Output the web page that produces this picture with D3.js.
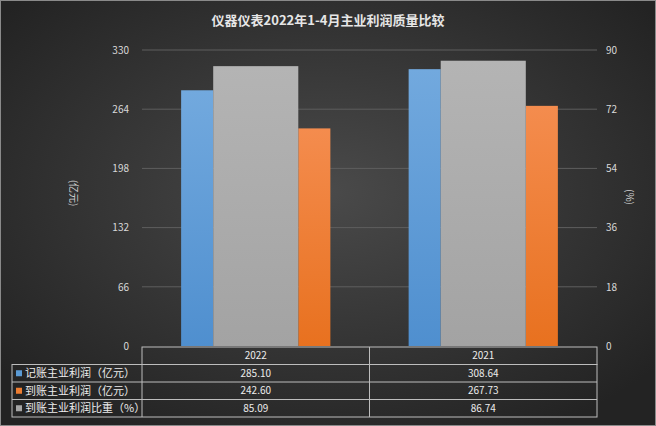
<!DOCTYPE html>
<html>
<head>
<meta charset="utf-8">
<title>仪器仪表2022年1-4月主业利润质量比较</title>
<style>
  html, body { margin: 0; padding: 0; background: #222; }
  svg { display: block; }
  text { font-family: "Noto Sans CJK SC", "Noto Sans", sans-serif; }
</style>
</head>
<body>
<script src="https://cdn.jsdelivr.net/npm/d3@7"></script>
<script>
// data
var categories = ["2022", "2021"];
var seriesNames = ["记账主业利润（亿元）", "到账主业利润（亿元）", "到账主业利润比重（%）"];
var booked = [285.10, 308.64];     // 亿元, left axis
var received = [242.60, 267.73];   // 亿元, left axis
var ratio = [85.09, 86.74];        // %, right axis
var leftTicks = [0, 66, 132, 198, 264, 330];
var rightTicks = [0, 18, 36, 54, 72, 90];

var width = 656, height = 426;
var plotLeft = 142, plotRight = 597, plotTop = 50, plotBottom = 346;

var svg = d3.select("body").append("svg")
    .attr("width", width)
    .attr("height", height);

var defs = svg.append("defs");

// background
var bg = defs.append("radialGradient").attr("id", "bg")
    .attr("cx", "50%").attr("cy", "45%").attr("r", "65%");
bg.append("stop").attr("offset", "0%").attr("stop-color", "#4a4a4a");
bg.append("stop").attr("offset", "100%").attr("stop-color", "#232323");

function barGrad(id, top, bottom) {
    var g = defs.append("linearGradient").attr("id", id)
        .attr("x1", 0).attr("y1", 0).attr("x2", 0).attr("y2", 1);
    g.append("stop").attr("offset", "0%").attr("stop-color", top);
    g.append("stop").attr("offset", "100%").attr("stop-color", bottom);
}
barGrad("gBlue", "#72a9de", "#4f8fcf");
barGrad("gOrange", "#f48c4e", "#e8711f");
barGrad("gGray", "#b4b4b4", "#a3a3a3");

svg.append("rect")
    .attr("x", 0.5).attr("y", 0.5)
    .attr("width", width - 1).attr("height", height - 1)
    .attr("fill", "url(#bg)")
    .attr("stroke", "#8a8a8a");

// title
svg.append("text")
    .attr("x", 328).attr("y", 25)
    .attr("text-anchor", "middle")
    .attr("fill", "#e6e6e6")
    .attr("font-size", 13)
    .attr("font-weight", "bold")
    .text("仪器仪表2022年1-4月主业利润质量比较");

// scales
var x = d3.scaleBand().domain(categories).range([plotLeft, plotRight]).padding(0);
var yL = d3.scaleLinear().domain([0, 330]).range([plotBottom, plotTop]);
var yR = d3.scaleLinear().domain([0, 90]).range([plotBottom, plotTop]);

// grid
svg.append("g").selectAll("line")
    .data(leftTicks.filter(function(d) { return d > 0; }))
    .enter().append("line")
    .attr("x1", plotLeft).attr("x2", plotRight)
    .attr("y1", function(d) { return yL(d); })
    .attr("y2", function(d) { return yL(d); })
    .attr("stroke", "#5e5e5e")
    .attr("stroke-width", 1);

// axes (labels only)
var leftAxis = d3.axisLeft(yL).tickValues(leftTicks).tickSize(0).tickPadding(0);
var gl = svg.append("g").attr("transform", "translate(129,0)").call(leftAxis);
var rightAxis = d3.axisRight(yR).tickValues(rightTicks).tickSize(0).tickPadding(0);
var gr = svg.append("g").attr("transform", "translate(606,0)").call(rightAxis);
[gl, gr].forEach(function(g) {
    g.select(".domain").remove();
    g.selectAll("text")
        .attr("fill", "#d9d9d9")
        .attr("font-size", 10)
        .style("font-family", "\"Noto Sans CJK SC\", sans-serif");
});

// axis titles
svg.append("text")
    .attr("transform", "translate(70,193) rotate(90)")
    .attr("text-anchor", "middle")
    .attr("fill", "#d0d0d0")
    .attr("font-size", 10)
    .text("(亿元)");
svg.append("text")
    .attr("transform", "translate(626,197) rotate(90)")
    .attr("text-anchor", "middle")
    .attr("fill", "#d0d0d0")
    .attr("font-size", 10)
    .text("(%)");

// bars
var bw = x.bandwidth();
var sideW = bw * 0.141, midW = bw * 0.374;
function center(i) { return x(categories[i]) + bw / 2; }

var bars = svg.append("g");
bars.selectAll(".blue").data(booked).enter().append("rect")
    .attr("x", function(d, i) { return center(i) - midW / 2 - sideW; })
    .attr("y", function(d) { return yL(d); })
    .attr("width", sideW)
    .attr("height", function(d) { return plotBottom - yL(d); })
    .attr("fill", "url(#gBlue)");
bars.selectAll(".orange").data(received).enter().append("rect")
    .attr("x", function(d, i) { return center(i) + midW / 2; })
    .attr("y", function(d) { return yL(d); })
    .attr("width", sideW)
    .attr("height", function(d) { return plotBottom - yL(d); })
    .attr("fill", "url(#gOrange)");
bars.selectAll(".gray").data(ratio).enter().append("rect")
    .attr("x", function(d, i) { return center(i) - midW / 2; })
    .attr("y", function(d) { return yR(d); })
    .attr("width", midW)
    .attr("height", function(d) { return plotBottom - yR(d); })
    .attr("fill", "url(#gGray)");

// data table
var rowH = 17.5, tableTop = 347, tableLeft = 12;
var rows = [booked, received, ratio];
var keyColors = ["#5b9bd5", "#ed7d31", "#a5a5a5"];
var fmt = d3.format(".2f");
var tbl = svg.append("g").attr("stroke", "#bdbdbd").attr("stroke-width", 1).attr("fill", "none");

// header row
tbl.append("rect").attr("x", plotLeft).attr("y", tableTop)
    .attr("width", plotRight - plotLeft).attr("height", rowH);
// body
tbl.append("rect").attr("x", tableLeft).attr("y", tableTop + rowH)
    .attr("width", plotRight - tableLeft).attr("height", rowH * 3);
[1, 2].forEach(function(k) {
    tbl.append("line").attr("x1", tableLeft).attr("x2", plotRight)
        .attr("y1", tableTop + rowH * (k + 1)).attr("y2", tableTop + rowH * (k + 1));
});
tbl.append("line").attr("x1", plotLeft).attr("x2", plotLeft)
    .attr("y1", tableTop + rowH).attr("y2", tableTop + rowH * 4);
tbl.append("line").attr("x1", x(categories[1])).attr("x2", x(categories[1]))
    .attr("y1", tableTop).attr("y2", tableTop + rowH * 4);

var txt = svg.append("g").attr("fill", "#ececec").attr("font-size", 10);
txt.selectAll(".hdr").data(categories).enter().append("text")
    .attr("x", function(d) { return x(d) + bw / 2; })
    .attr("y", tableTop + rowH / 2 + 3.5)
    .attr("text-anchor", "middle")
    .text(function(d) { return d; });

rows.forEach(function(vals, r) {
    var yy = tableTop + rowH * (r + 1);
    svg.append("rect")
        .attr("x", tableLeft + 4).attr("y", yy + rowH / 2 - 3)
        .attr("width", 6).attr("height", 6)
        .attr("fill", keyColors[r]);
    txt.append("text")
        .attr("x", tableLeft + 13).attr("y", yy + rowH / 2 + 4)
        .attr("font-size", 11)
        .text(seriesNames[r]);
    txt.selectAll(".v" + r).data(vals).enter().append("text")
        .attr("x", function(d, i) { return center(i); })
        .attr("y", yy + rowH / 2 + 3.5)
        .attr("text-anchor", "middle")
        .text(function(d) { return fmt(d); });
});
</script>
</body>
</html>
